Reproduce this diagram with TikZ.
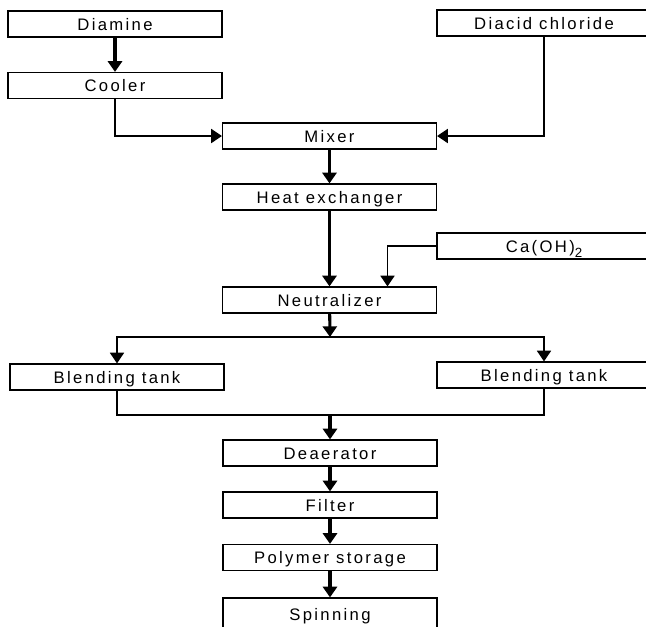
\documentclass[tikz,border=0pt]{standalone}
\usepackage{fontspec}
\setmainfont{Liberation Sans}[LetterSpace=14]
\usetikzlibrary{arrows.meta}

\begin{document}
\begin{tikzpicture}
[x=0.75pt,y=-0.75pt,
box/.style={shape=rectangle,draw,line width=0.9pt,minimum width=160.5pt,minimum height=19.5pt,inner sep=0pt,text height=10.5pt,text depth=1pt,font=\fontsize{12.5}{14}\selectfont},
flow/.style={-{Triangle[length=8pt,width=10.5pt]},line width=2.3pt},
feed/.style={-{Triangle[length=8pt,width=10.5pt]},line width=1.2pt},
pipe/.style={line width=1.2pt}]

\clip (0,0) rectangle (646,626);

\node[box] (diamine) at (115,24) {Diamine};
\node[box] (cooler) at (115,85.5) {Cooler};
\node[box] (diacid) at (544,23) {Diacid chloride};
\node[box] (mixer) at (329.5,136) {Mixer};
\node[box] (heatex) at (329.5,197) {Heat exchanger};
\node[box] (caoh) at (544,246) {Ca(OH)\raisebox{-3.5pt}{\fontsize{10}{10}\selectfont 2}};
\node[box] (neutral) at (329.5,300) {Neutralizer};
\node[box] (blendL) at (117,377) {Blending tank};
\node[box] (blendR) at (544,375) {Blending tank};
\node[box] (deaer) at (330,453) {Deaerator};
\node[box] (filter) at (330,505) {Filter};
\node[box] (polymer) at (330,557.5) {Polymer storage};
\node[box,minimum height=24pt] (spinning) at (330,614) {Spinning};

\coordinate (split) at (330,337);
\coordinate (merge) at (330,415);

\draw[flow] (diamine) -- (cooler);
\draw[feed] (cooler.south) |- (mixer.west);
\draw[feed] (diacid.south) |- (mixer.east);
\draw[flow] (mixer) -- (heatex);
\draw[flow] (heatex) -- (neutral);
\draw[feed] (caoh.west) -| ([xshift=43.5pt]neutral.north);
\draw[flow] (neutral) -- (split);
\draw[feed,{Triangle[length=8pt,width=10.5pt]}-{Triangle[length=8pt,width=10.5pt]}] (blendL.north) |- (split) -| (blendR.north);
\draw[pipe] (blendL.south) |- (merge) -| (blendR.south);
\draw[flow] (merge) -- (deaer);
\draw[flow] (deaer) -- (filter);
\draw[flow] (filter) -- (polymer);
\draw[flow] (polymer) -- (spinning);
\end{tikzpicture}
\end{document}
